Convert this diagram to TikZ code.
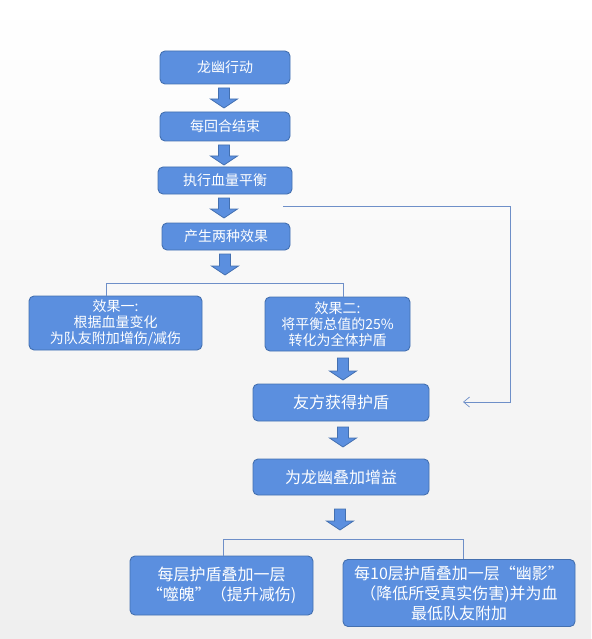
\documentclass[tikz,border=0pt]{standalone}
\usepackage{fontspec}
\setmainfont{Noto Sans CJK SC}
\usetikzlibrary{calc,arrows.meta}
\definecolor{boxfill}{HTML}{5B8FDF}
\definecolor{boxline}{HTML}{4470B0}
\definecolor{conn}{HTML}{6E8FC8}
\definecolor{bgbot}{HTML}{EFEFEF}
\tikzset{
  box/.style={draw=boxline, line width=0.9pt, fill=boxfill, rounded corners=5pt,
    text=white, align=center, inner sep=2pt, font=\fontsize{14}{16}\selectfont},
  bigbox/.style={box, font=\fontsize{16}{19}\selectfont},
  blk/.style={draw=boxline, line width=0.8pt, fill=boxfill},
  conline/.style={draw=conn, line width=0.7pt},
}
% block arrow: #1 x-centre, #2 top, #3 bottom (pixels, y down)
\newcommand\blockarr[3]{%
  \path[blk] ($(#1-5.5,#2)$) -- ($(#1+5.5,#2)$) -- ($(#1+5.5,#3-9)$) -- ($(#1+13.5,#3-9)$)
     -- ($(#1,#3)$) -- ($(#1-13.5,#3-9)$) -- ($(#1-5.5,#3-9)$) -- cycle;}
\begin{document}
\begin{tikzpicture}[x=1pt,y=-1pt]
\shade[top color=white, bottom color=bgbot] (0,0) rectangle (591,639);
\useasboundingbox (0,0) rectangle (591,639);

\node[box, minimum width=130pt, minimum height=33pt] (n1) at (225,67.5) {龙幽行动};
\node[box, minimum width=130pt, minimum height=29pt] (n2) at (225,126.5) {每回合结束};
\node[box, minimum width=134pt, minimum height=27pt] (n3) at (225,180.5) {执行血量平衡};
\node[box, minimum width=128pt, minimum height=27pt] (n4) at (226,236.5) {产生两种效果};
\node[box, minimum width=173pt, minimum height=54pt] (e1) at (115.5,323) {效果一:\\根据血量变化\\为队友附加增伤/减伤};
\node[box, minimum width=145pt, minimum height=54pt] (e2) at (337.5,324) {效果二:\\将平衡总值的25\%\\转化为全体护盾};
\node[bigbox, minimum width=176pt, minimum height=37pt] (n5) at (341,402.5) {友方获得护盾};
\node[bigbox, minimum width=176pt, minimum height=36pt] (n6) at (341,477) {为龙幽叠加增益};
\node[box, font=\fontsize{16}{20}\selectfont, minimum width=183pt, minimum height=59pt] (b1) at (221.5,585.5) {每层护盾叠加一层\\“噬魄”（提升减伤)};
\node[box, font=\fontsize{16}{20}\selectfont, minimum width=232pt, minimum height=67pt] (b2) at (459,593) {每10层护盾叠加一层“幽影”\\（降低所受真实伤害)并为血\\最低队友附加};

\blockarr{224}{88}{108}
\blockarr{224}{145}{165}
\blockarr{224}{198}{218}
\blockarr{225}{254}{275}
\blockarr{343}{358}{380}
\blockarr{343}{427}{447}
\blockarr{340}{509}{530}

\draw[conline] (e1.north -| 106,0) -- (106,283) -- (343,283) -- (e2.north -| 343,0);
\draw[conline] (b1.north -| 223,0) -- (223,539) -- (463,539) -- (b2.north -| 463,0);

\coordinate (f0) at (283,206);
\coordinate (f1) at (510,206);
\coordinate (f2) at (510,402);
\coordinate (f3) at (463,402);
\draw[conline, -{Straight Barb[length=6pt,width=10pt]}] (f0) -- (f1) -- (f2) -- (f3);
\end{tikzpicture}
\end{document}
